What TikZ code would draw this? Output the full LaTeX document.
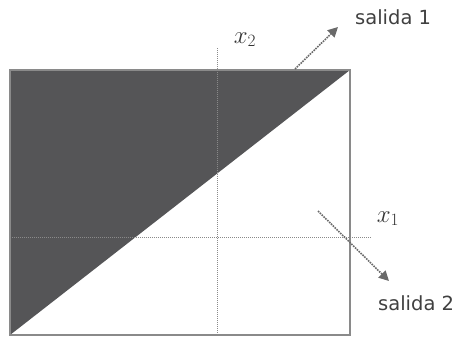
\documentclass[tikz,border=0pt]{standalone}
\usepackage{fontspec}
\setmainfont{DejaVu Sans}
\usetikzlibrary{arrows.meta}
\definecolor{zona}{HTML}{555557}
\definecolor{borde}{HTML}{8A8A8A}
\definecolor{flecha}{HTML}{6A6A6A}

\begin{document}
\begin{tikzpicture}[x=1pt, y=-1pt,
    guia/.style={draw=borde, densely dotted, line width=1pt},
    salida/.style={draw=flecha, densely dotted, line width=1.6pt,
      -{Triangle[length=10pt, width=10pt]}},
    etiqueta/.style={font=\fontsize{19.5}{22}\selectfont, text=black!75, inner sep=0pt},
    eje/.style={font=\fontsize{24}{26}\selectfont, text=black!80, inner sep=0pt}]
\useasboundingbox (0,0) rectangle (453,340);
% corners of the square
\coordinate (a) at (10,335);
\coordinate (b) at (350,335);
\coordinate (c) at (350,70);
\coordinate (d) at (10,70);
\fill[zona] (a) -- (c) -- (d) -- cycle;
\draw[borde, line width=1.6pt] (a) rectangle (c);
% dotted axes
\coordinate (v1) at (217,48);
\coordinate (v2) at (217,335);
\coordinate (h1) at (10,237);
\coordinate (h2) at (372,237);
\draw[guia] (v1) -- (v2);
\draw[guia] (h1) -- (h2);
% outputs
\coordinate (s1a) at (295,69);
\coordinate (s1b) at (338,27);
\coordinate (s2a) at (318,211);
\coordinate (s2b) at (389,281);
\draw[salida] (s1a) -- (s1b);
\draw[salida] (s2a) -- (s2b);
% labels
\node[eje, anchor=base] (x2) at (245,43) {$x_2$};
\node[eje, anchor=base] (x1) at (388,222) {$x_1$};
\node[etiqueta, anchor=base west] (sal1) at (355,24) {salida 1};
\node[etiqueta, anchor=base west] (sal2) at (378,310) {salida 2};
\end{tikzpicture}
\end{document}
